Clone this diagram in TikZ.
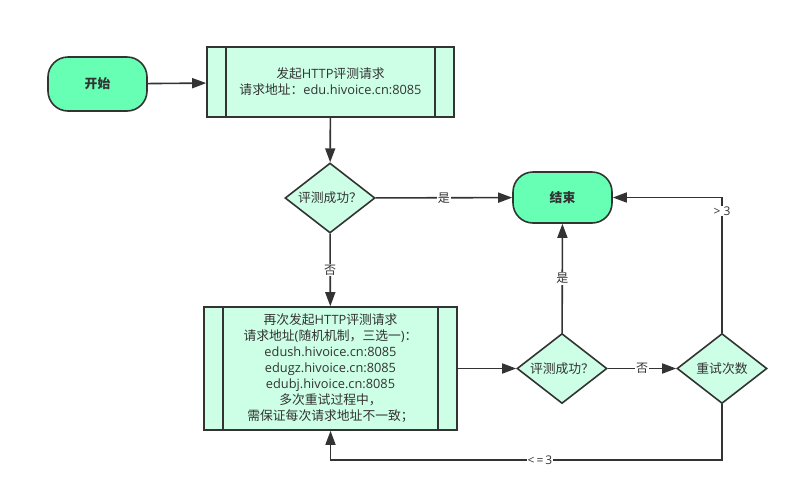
\documentclass[tikz,border=0pt]{standalone}
\usepackage{fontspec}
\setmainfont{Noto Sans CJK SC}
\newfontfamily\lat{Open Sans}
\usetikzlibrary{shapes.geometric,arrows.meta}
\definecolor{lineC}{HTML}{333333}
\definecolor{termC}{HTML}{66FFB3}
\definecolor{boxC}{HTML}{CCFFE6}
\tikzset{
  base/.style={draw=lineC, line width=1.6pt, text=lineC, font=\fontsize{12.8}{16}\selectfont},
  term/.style={base, fill=termC, rounded corners=20pt, minimum width=99pt, font=\fontsize{12.8}{16}\selectfont\bfseries},
  proc/.style={base, fill=boxC, align=center, inner sep=0pt},
  dec/.style={base, fill=boxC, diamond, minimum width=90pt, minimum height=70pt, aspect=1.29, inner sep=0pt},
  arr/.style={draw=lineC, line width=1.6pt, -{Triangle[length=14pt,width=10pt]}},
  lbl/.style={fill=white, text=lineC, inner sep=1pt, font=\fontsize{12}{14}\selectfont},
  sub/.style={draw=lineC, line width=1.6pt}
}
\begin{document}
\begin{tikzpicture}[x=1pt,y=-1pt]
\useasboundingbox (0,0) rectangle (799,491);
\fill[white] (0,0) rectangle (799,491);

\node[term, minimum height=54pt] (start) at (97.5,84) {开始};
\node[proc, minimum width=247pt, minimum height=70pt] (b1) at (330.5,82) {发起{\lat HTTP}评测请求\\请求地址：{\lat edu.hivoice.cn:8085}};
\draw[sub] ([xshift=20pt]b1.north west) -- ([xshift=20pt]b1.south west);
\draw[sub] ([xshift=-20pt]b1.north east) -- ([xshift=-20pt]b1.south east);

\node[dec] (d1) at (330,198) {评测成功？};
\node[term, minimum height=51pt] (end) at (562.5,197.5) {结束};

\node[proc, minimum width=253pt, minimum height=123pt] (b2) at (330.5,368.5) {再次发起{\lat HTTP}评测请求\\请求地址{\lat (}随机机制，三选一{\lat )}：\\{\lat edush.hivoice.cn:8085}\\{\lat edugz.hivoice.cn:8085}\\{\lat edubj.hivoice.cn:8085}\\多次重试过程中，\\需保证每次请求地址不一致；};
\draw[sub] ([xshift=20pt]b2.north west) -- ([xshift=20pt]b2.south west);
\draw[sub] ([xshift=-20pt]b2.north east) -- ([xshift=-20pt]b2.south east);

\node[dec] (d2) at (562,368.5) {评测成功？};
\node[dec] (d3) at (722,368.5) {重试次数};

\draw[arr] (start) -- (b1);
\draw[arr] (b1) -- (d1);
\draw[arr] (d1) -- node[lbl]{是} (end);
\draw[arr] (d1) -- node[lbl]{否} (b2);
\draw[arr] (b2) -- (d2);
\draw[arr] (d2) -- node[lbl]{是} (end);
\draw[arr] (d2) -- node[lbl]{否} (d3);
\draw[arr] (d3.north) -- node[lbl,pos=0.9,font=\fontsize{12}{14}\selectfont\lat]{> 3} (d3.north |- end.east) -- (end.east);
\draw[arr] (d3.south) -- (d3.south |- 0,460) -- node[lbl,pos=0.465,font=\fontsize{12}{14}\selectfont\lat]{<\,=\,3} (b2.south |- 0,460) -- (b2.south);
\end{tikzpicture}
\end{document}
